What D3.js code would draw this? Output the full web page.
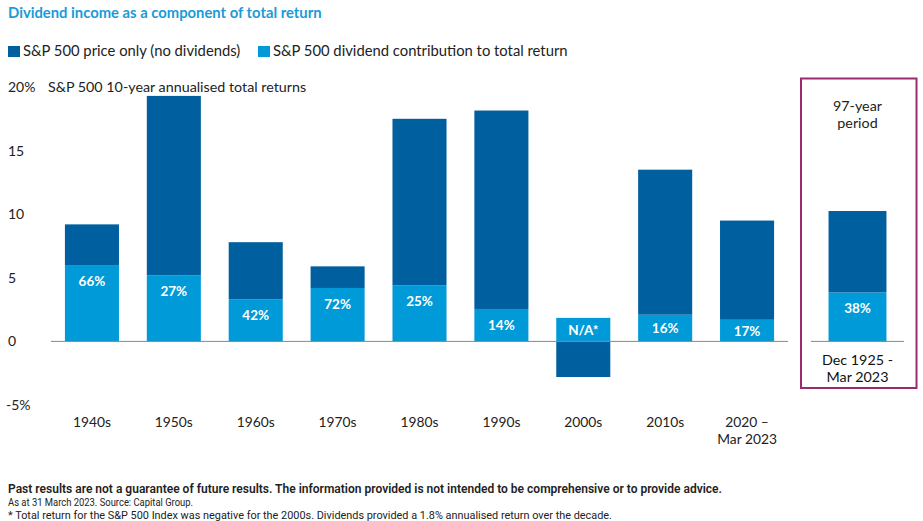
<!DOCTYPE html>
<html>
<head>
<meta charset="utf-8">
<script src="https://cdn.jsdelivr.net/npm/d3@7"></script>
<style>
  body { margin: 0; background: #fff; }
  svg { display: block; font-family: Lato, "Open Sans", sans-serif; }
</style>
</head>
<body>
<div id="chart"></div>
<script>
// decades, price-only part and dividend part of the 10-year annualised return (%)
const decades = ['1940s', '1950s', '1960s', '1970s', '1980s', '1990s', '2000s', '2010s', '2020 –|Mar 2023'];
const priceOnly = [3.2, 14.1, 4.5, 1.7, 13.1, 15.6, -2.8, 11.4, 7.8];
const dividend = [6.0, 5.2, 3.3, 4.2, 4.4, 2.55, 1.85, 2.1, 1.7];
const shareLabels = ['66%', '27%', '42%', '72%', '25%', '14%', 'N/A*', '16%', '17%'];

const longPeriod = { label: 'Dec 1925 -|Mar 2023', price: 6.4, dividend: 3.85, share: '38%' };

const yTicks = [-5, 0, 5, 10, 15, 20];

const darkBlue = '#005f9e';
const lightBlue = '#009ad8';

const width = 923, height = 521;

const svg = d3.select('#chart').append('svg')
  .attr('width', width)
  .attr('height', height);

const y = d3.scaleLinear().domain([-5, 20]).range([405, 87]);

const x = d3.scaleBand()
  .domain(decades)
  .range([51, 788])
  .paddingInner(0.34)
  .paddingOuter(0.17);

// title + legend
svg.append('text')
  .attr('x', 8).attr('y', 18)
  .attr('fill', '#1a9bd7')
  .attr('font-size', 14.8)
  .attr('font-weight', 700)
  .text('Dividend income as a component of total return');

const legend = [
  { label: 'S&P 500 price only (no dividends)', color: darkBlue, x: 8 },
  { label: 'S&P 500 dividend contribution to total return', color: lightBlue, x: 258 }
];
legend.forEach(l => {
  svg.append('rect').attr('x', l.x).attr('y', 46).attr('width', 12).attr('height', 11).attr('fill', l.color);
  svg.append('text').attr('x', l.x + 15).attr('y', 56)
    .attr('font-size', 14.8).attr('fill', '#222').text(l.label);
});

// y axis labels
svg.append('g').selectAll('text')
  .data(yTicks)
  .join('text')
  .attr('x', d => d < 0 ? 6 : 8)
  .attr('y', d => y(d) + 5)
  .attr('font-size', 14)
  .attr('fill', '#222')
  .text(d => (d === 20 || d === -5) ? d + '%' : d);

svg.append('text')
  .attr('x', 48).attr('y', y(20) + 5)
  .attr('font-size', 14.3).attr('fill', '#222')
  .text('S&P 500 10-year annualised total returns');

// stacked bars
const rows = decades.map((d, i) => ({ key: d, price: priceOnly[i], div: dividend[i], share: shareLabels[i] }));

const g = svg.append('g');

g.selectAll('.div')
  .data(rows)
  .join('rect')
  .attr('x', d => x(d.key))
  .attr('width', x.bandwidth())
  .attr('y', d => y(d.div))
  .attr('height', d => y(0) - y(d.div))
  .attr('fill', lightBlue);

g.selectAll('.price')
  .data(rows)
  .join('rect')
  .attr('x', d => x(d.key))
  .attr('width', x.bandwidth())
  .attr('y', d => d.price >= 0 ? y(d.div + d.price) : y(0))
  .attr('height', d => Math.abs(y(0) - y(d.price)))
  .attr('fill', darkBlue);

g.selectAll('.share')
  .data(rows)
  .join('text')
  .attr('x', d => x(d.key) + x.bandwidth() / 2)
  .attr('y', d => d.div > 3 ? y(d.div) + 21 : y(d.div / 2) + 5)
  .attr('text-anchor', 'middle')
  .attr('font-size', 13.5)
  .attr('font-weight', 700)
  .attr('fill', '#fff')
  .text(d => d.share);

// zero line
svg.append('line')
  .attr('x1', 51).attr('x2', 788)
  .attr('y1', y(0)).attr('y2', y(0))
  .attr('stroke', '#888').attr('stroke-width', 1);

// x labels
const xl = svg.append('g').selectAll('text')
  .data(decades)
  .join('text')
  .attr('x', d => x(d) + x.bandwidth() / 2)
  .attr('y', 427)
  .attr('text-anchor', 'middle')
  .attr('font-size', 13.8)
  .attr('fill', '#222');
xl.each(function (d) {
  d.split('|').forEach((t, i) => {
    d3.select(this).append('tspan')
      .attr('x', x(d) + x.bandwidth() / 2)
      .attr('dy', i === 0 ? 0 : 17)
      .text(t);
  });
});

// 97-year period box
const bx = d3.scaleBand().domain([longPeriod.label]).range([811, 904]).paddingInner(0.34).paddingOuter(0.2);

svg.append('rect')
  .attr('x', 801).attr('y', 78.5)
  .attr('width', 115.5).attr('height', 309.5)
  .attr('fill', 'none')
  .attr('stroke', '#9b2a6f').attr('stroke-width', 2);

svg.append('text')
  .attr('x', 857.5).attr('y', 111)
  .attr('text-anchor', 'middle')
  .attr('font-size', 14.3).attr('fill', '#222')
  .selectAll('tspan')
  .data(['97-year', 'period'])
  .join('tspan')
  .attr('x', 857.5)
  .attr('dy', (d, i) => i === 0 ? 0 : 17)
  .text(d => d);

svg.append('rect')
  .attr('x', bx(longPeriod.label)).attr('width', bx.bandwidth())
  .attr('y', y(longPeriod.dividend)).attr('height', y(0) - y(longPeriod.dividend))
  .attr('fill', lightBlue);
svg.append('rect')
  .attr('x', bx(longPeriod.label)).attr('width', bx.bandwidth())
  .attr('y', y(longPeriod.dividend + longPeriod.price))
  .attr('height', y(0) - y(longPeriod.price))
  .attr('fill', darkBlue);
svg.append('text')
  .attr('x', bx(longPeriod.label) + bx.bandwidth() / 2)
  .attr('y', y(longPeriod.dividend) + 21)
  .attr('text-anchor', 'middle')
  .attr('font-size', 13.5).attr('font-weight', 700).attr('fill', '#fff')
  .text(longPeriod.share);

svg.append('line')
  .attr('x1', 811).attr('x2', 904)
  .attr('y1', y(0)).attr('y2', y(0))
  .attr('stroke', '#888');

svg.append('text')
  .attr('x', 857.5).attr('y', 365)
  .attr('text-anchor', 'middle')
  .attr('font-size', 14.3).attr('fill', '#111')
  .selectAll('tspan')
  .data(longPeriod.label.split('|'))
  .join('tspan')
  .attr('x', 857.5)
  .attr('dy', (d, i) => i === 0 ? 0 : 17)
  .text(d => d);

// footnotes
const notes = svg.append('g').attr('font-family', '"Liberation Sans Narrow", Roboto, sans-serif').attr('fill', '#222');
notes.append('text').attr('x', 8).attr('y', 493).attr('font-size', 12.5).attr('font-weight', 600)
  .attr('textLength', 714).attr('lengthAdjust', 'spacingAndGlyphs')
  .text('Past results are not a guarantee of future results. The information provided is not intended to be comprehensive or to provide advice.');
notes.append('text').attr('x', 8).attr('y', 506).attr('font-size', 10.5)
  .attr('textLength', 185).attr('lengthAdjust', 'spacingAndGlyphs')
  .text('As at 31 March 2023. Source: Capital Group.');
notes.append('text').attr('x', 8).attr('y', 519).attr('font-size', 10.5)
  .attr('textLength', 604).attr('lengthAdjust', 'spacingAndGlyphs')
  .text('* Total return for the S&P 500 Index was negative for the 2000s. Dividends provided a 1.8% annualised return over the decade.');
</script>
</body>
</html>
